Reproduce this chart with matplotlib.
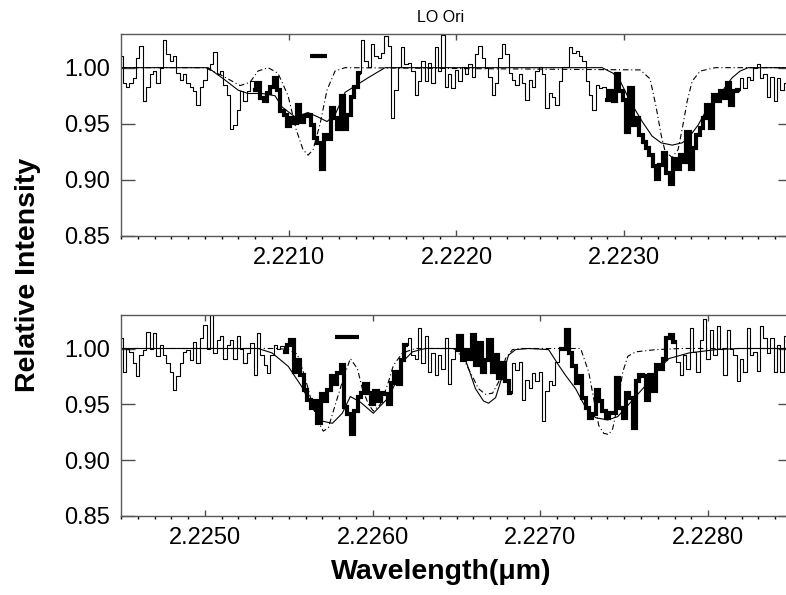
import numpy as np
import matplotlib.pyplot as plt
from matplotlib.ticker import FixedLocator, MultipleLocator, FormatStrFormatter

plt.rcParams['font.family'] = ['Liberation Sans', 'DejaVu Sans']

# wavelength grid of the observed spectrum (micron)
step = 0.00002
start1 = 2.2200
start2 = 2.2245

flux1 = [
    1.010, 0.986, 0.983, 0.986, 0.991, 1.009, 1.019, 0.970, 0.983, 0.994,
    0.997, 0.986, 1.000, 1.025, 1.012, 1.006, 1.010, 0.995, 0.989, 0.994,
    0.986, 0.983, 0.979, 0.967, 0.983, 0.989, 1.000, 1.003, 1.014, 0.994,
    0.997, 0.985, 0.976, 0.945, 0.949, 0.962, 0.979, 0.970, 0.979, 0.988,
    0.980, 0.986, 0.973, 0.970, 0.977, 0.983, 0.991, 0.980, 0.961, 0.958,
    0.948, 0.955, 0.951, 0.967, 0.952, 0.957, 0.958, 0.949, 0.937, 0.933,
    0.910, 0.940, 0.936, 0.964, 0.955, 0.945, 0.975, 0.945, 0.958, 0.974,
    0.983, 0.995, 1.025, 1.006, 1.001, 1.021, 1.010, 1.009, 1.013, 1.028,
    1.019, 0.955, 0.980, 1.001, 1.018, 1.003, 1.004, 0.997, 0.976, 0.988,
    1.006, 0.988, 1.004, 0.986, 1.018, 0.997, 1.029, 0.983, 0.994, 0.982,
    0.998, 0.988, 1.001, 0.994, 1.003, 0.992, 1.012, 1.019, 1.009, 1.000,
    0.992, 0.976, 0.986, 1.009, 1.021, 1.012, 0.995, 0.989, 0.985, 0.994,
    0.986, 0.971, 0.989, 0.983, 0.997, 1.001, 0.994, 0.964, 0.977, 0.974,
    0.967, 0.988, 1.001, 1.001, 1.018, 1.013, 1.015, 1.010, 1.006, 0.988,
    0.976, 0.962, 0.985, 0.982, 0.983, 0.971, 0.979, 0.970, 0.994, 0.979,
    0.971, 0.943, 0.982, 0.949, 0.955, 0.940, 0.934, 0.928, 0.922, 0.912,
    0.901, 0.913, 0.924, 0.906, 0.896, 0.919, 0.910, 0.922, 0.916, 0.943,
    0.910, 0.928, 0.940, 0.946, 0.955, 0.967, 0.946, 0.976, 0.970, 0.979,
    0.973, 0.986, 0.967, 0.979, 0.980, 0.991, 0.982, 0.992, 0.989, 1.000,
    1.003, 0.991, 0.994, 0.974, 0.992, 0.970, 0.991, 0.980, 0.986, 0.985,
]

flux2 = [
    1.009, 0.979, 1.000, 0.997, 0.987, 0.975, 0.994, 0.999, 1.015, 1.000,
    1.014, 0.993, 1.003, 0.994, 0.987, 0.979, 0.963, 0.975, 0.987, 0.997,
    0.999, 0.990, 1.006, 0.987, 1.009, 1.021, 1.000, 1.030, 0.996, 1.008,
    1.011, 0.991, 1.003, 1.008, 0.991, 1.011, 1.000, 0.987, 0.996, 1.005,
    0.976, 1.014, 0.994, 0.985, 0.978, 0.994, 1.003, 1.000, 1.002, 0.997,
    1.003, 1.008, 0.979, 0.990, 0.976, 0.963, 0.954, 0.947, 0.953, 0.933,
    0.959, 0.953, 0.963, 0.975, 0.968, 0.978, 0.985, 0.948, 0.941, 0.923,
    0.944, 0.957, 0.960, 0.968, 0.960, 0.950, 0.962, 0.953, 0.960, 0.959,
    0.950, 0.969, 0.979, 0.968, 0.990, 1.003, 1.009, 0.994, 0.991, 1.018,
    0.987, 1.011, 0.979, 0.996, 0.976, 0.994, 0.982, 1.009, 0.968, 0.991,
    0.999, 1.011, 0.990, 0.999, 0.991, 1.012, 0.985, 1.005, 0.979, 0.990,
    1.008, 0.979, 0.994, 0.974, 0.987, 0.971, 0.960, 0.987, 0.981, 0.988,
    0.954, 0.972, 0.965, 0.978, 0.971, 0.979, 0.935, 0.962, 0.971, 0.967,
    0.988, 1.000, 1.000, 1.017, 0.996, 0.984, 0.969, 0.975, 0.956, 0.947,
    0.938, 0.941, 0.963, 0.953, 0.944, 0.938, 0.942, 0.942, 0.974, 0.947,
    0.938, 0.960, 0.956, 0.929, 0.971, 0.976, 0.975, 0.954, 0.976, 0.962,
    0.985, 0.982, 0.991, 1.009, 1.012, 1.006, 0.988, 0.976, 0.994, 0.982,
    1.018, 0.997, 0.979, 1.008, 1.026, 0.991, 1.017, 0.994, 1.020, 1.000,
    0.976, 1.017, 1.000, 0.994, 0.971, 0.991, 0.979, 1.018, 0.994, 0.997,
    0.980, 1.020, 1.009, 0.996, 1.009, 0.979, 1.003, 0.979, 1.011, 1.000,
]

# pixel ranges used in the fit (drawn thick)
fit1 = [(40, 71), (145, 184)]
fit2 = [(49, 85), (100, 116), (131, 165)]

# model 1 (solid) and model 2 (dash-dot), panel 1
m1_wl = [2.22000, 2.220519, 2.220620, 2.220698, 2.220757, 2.220841, 2.220918,
         2.220960, 2.221038, 2.221115, 2.221175, 2.221228, 2.221276, 2.221336,
         2.221473, 2.221574, 2.222868, 2.222934, 2.222976, 2.223035, 2.223107,
         2.223166, 2.223220, 2.223286, 2.223345, 2.223381, 2.223441, 2.223500,
         2.223584, 2.223643, 2.223691, 2.223739, 2.224000]
m1_fl = [1.000, 1.000, 0.989, 0.980, 0.977, 0.977, 0.975,
         0.965, 0.956, 0.960, 0.956, 0.952, 0.958, 0.978,
         0.991, 1.000, 1.000, 0.995, 0.988, 0.970, 0.952,
         0.939, 0.933, 0.931, 0.933, 0.937, 0.949, 0.965,
         0.979, 0.991, 0.997, 1.000, 1.000]
d1_wl = [2.22000, 2.220501, 2.220602, 2.220710, 2.220769, 2.220817, 2.220877,
         2.220936, 2.220996, 2.221044, 2.221085, 2.221115, 2.221145, 2.221187,
         2.221228, 2.221276, 2.221336, 2.223095, 2.223154, 2.223190, 2.223220,
         2.223244, 2.223286, 2.223321, 2.223345, 2.223375, 2.223405, 2.223453,
         2.223542, 2.224000]
d1_fl = [1.000, 1.000, 0.993, 0.984, 0.987, 0.997, 1.000,
         0.995, 0.975, 0.945, 0.927, 0.922, 0.927, 0.950,
         0.980, 0.997, 1.000, 0.998, 0.990, 0.965, 0.940,
         0.925, 0.920, 0.927, 0.945, 0.970, 0.988, 0.997,
         1.000, 1.000]

# panel 2
m2_wl = [2.22450, 2.225318, 2.225401, 2.225497, 2.225581, 2.225640, 2.225700,
         2.225760, 2.225819, 2.225867, 2.225927, 2.226004, 2.226094, 2.226136,
         2.226178, 2.226237, 2.226315, 2.226476, 2.226536, 2.226572, 2.226613,
         2.226661, 2.226691, 2.226733, 2.226775, 2.226810, 2.226852, 2.226930,
         2.227049, 2.227109, 2.227150, 2.227210, 2.227270, 2.227330, 2.227401,
         2.227461, 2.227527, 2.227628, 2.227688, 2.227766, 2.227885, 2.228046,
         2.228183, 2.228500]
m2_fl = [1.000, 1.000, 0.996, 0.984, 0.965, 0.947, 0.935,
         0.933, 0.942, 0.957, 0.952, 0.942, 0.956, 0.969,
         0.988, 0.997, 1.000, 1.000, 0.997, 0.982, 0.964,
         0.953, 0.951, 0.956, 0.976, 0.994, 0.999, 1.000,
         0.999, 0.985, 0.976, 0.964, 0.947, 0.938, 0.936,
         0.939, 0.950, 0.967, 0.979, 0.991, 0.996, 0.999,
         1.000, 1.000]
d2_wl = [2.22450, 2.225437, 2.225497, 2.225551, 2.225581, 2.225610, 2.225640,
         2.225670, 2.225706, 2.225736, 2.225778, 2.225819, 2.225867, 2.225909,
         2.225939, 2.225975, 2.226004, 2.226046, 2.226088, 2.226124, 2.226178,
         2.226255, 2.226494, 2.226554, 2.226595, 2.226631, 2.226673, 2.226715,
         2.226751, 2.226792, 2.226834, 2.226882, 2.227240, 2.227288, 2.227318,
         2.227348, 2.227378, 2.227407, 2.227431, 2.227461, 2.227491, 2.227521,
         2.227569, 2.227688, 2.227837, 2.228500]
d2_fl = [1.000, 1.000, 0.999, 0.995, 0.982, 0.967, 0.950,
         0.936, 0.926, 0.929, 0.950, 0.970, 0.991, 0.982,
         0.964, 0.950, 0.944, 0.950, 0.967, 0.985, 0.996,
         1.000, 1.000, 0.987, 0.975, 0.964, 0.959, 0.960,
         0.970, 0.991, 0.999, 1.000, 1.000, 0.979, 0.955,
         0.931, 0.924, 0.923, 0.928, 0.950, 0.979, 0.993,
         0.997, 0.999, 1.000, 1.000]

# short horizontal markers
bar1_wl = [2.221127, 2.221228]
bar2_wl = [2.225778, 2.225921]
bar_level = 1.010

xticks1 = [2.2210, 2.2220, 2.2230]
xticks2 = [2.2250, 2.2260, 2.2270, 2.2280]
yticks = [0.85, 0.90, 0.95, 1.00]

fig = plt.figure(figsize=(7.86, 5.95), dpi=100)
ax1 = fig.add_axes([121/786, 1 - 236/595, 671/786, 202/595])
ax2 = fig.add_axes([121/786, 1 - 516/595, 671/786, 201/595])

panels = [
    (ax1, start1, flux1, fit1, m1_wl, m1_fl, d1_wl, d1_fl, bar1_wl, xticks1),
    (ax2, start2, flux2, fit2, m2_wl, m2_fl, d2_wl, d2_fl, bar2_wl, xticks2),
]

for ax, st, fl, fits, mw, mf, dw, df, bw, xt in panels:
    fl = np.array(fl)
    wl = st + step * np.arange(len(fl))
    ax.plot(wl, fl, drawstyle='steps-mid', color='k', lw=0.8)
    for a, b in fits:
        ax.plot(wl[a:b + 1], fl[a:b + 1], drawstyle='steps-mid',
                color='k', lw=3.0, solid_joinstyle='miter')
    ax.plot(mw, mf, color='k', lw=0.8)
    ax.plot(dw, df, color='k', lw=0.8, dashes=(5, 2.5, 1, 2.5))
    ax.plot(bw, [bar_level, bar_level], color='k', lw=3, solid_capstyle='butt')

    ax.set_xlim(st, st + 0.004)
    ax.set_ylim(0.85, 1.03)
    ax.xaxis.set_major_locator(FixedLocator(xt))
    ax.xaxis.set_minor_locator(MultipleLocator(0.0001))
    ax.xaxis.set_major_formatter(FormatStrFormatter('%.4f'))
    ax.yaxis.set_major_locator(FixedLocator(yticks))
    ax.yaxis.set_major_formatter(FormatStrFormatter('%.2f'))
    ax.tick_params(direction='in', top=True, right=True, labelsize=17,
                   color='0.3', pad=8)
    ax.tick_params(axis='y', which='major', length=10, width=1)
    ax.tick_params(axis='x', which='major', length=4, width=1)
    ax.tick_params(axis='x', which='minor', length=2, width=1)
    for sp in ax.spines.values():
        sp.set_color('0.35')
        sp.set_linewidth(1)

fig.text(441/786, 1 - 18/595, 'LO Ori', ha='center', va='center', fontsize=11.5)
fig.text(441/786, 1 - 572/595, 'Wavelength(\u03bcm)', ha='center', va='center',
         fontsize=20.5, fontweight='bold')
fig.text(28/786, 1 - 275/595, 'Relative Intensity', ha='center', va='center',
         rotation=90, fontsize=20.5, fontweight='bold')

fig.savefig('out.png', dpi=100)
